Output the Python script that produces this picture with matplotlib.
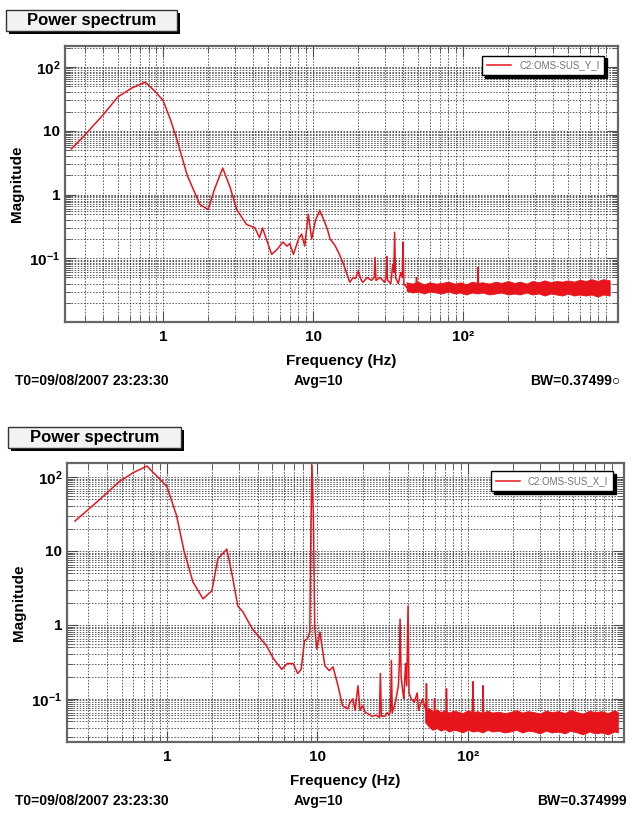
import numpy as np
import matplotlib
matplotlib.use('Agg')
import matplotlib.pyplot as plt
from matplotlib.patches import Rectangle
from matplotlib.ticker import FixedLocator, LogLocator, NullFormatter

plt.rcParams['font.family'] = ['Liberation Sans', 'DejaVu Sans']
plt.rcParams['font.weight'] = 'bold'
plt.rcParams['mathtext.fontset'] = 'custom'
plt.rcParams['mathtext.rm'] = 'Liberation Sans:bold'
plt.rcParams['mathtext.bf'] = 'Liberation Sans:bold'

# ---- panel 1 : C2:OMS-SUS_Y_I ----
freq_y = [0.245, 0.293, 0.40, 0.50, 0.62, 0.76, 0.88, 1.0, 1.12, 1.24, 1.45,
          1.76, 2.0, 2.2, 2.5, 2.8, 3.1, 3.6, 4.1, 4.4, 4.6, 5.3, 5.8, 6.3,
          6.7, 7.0, 7.4, 8.0, 8.4, 8.8, 9.3, 9.8, 10.4, 11.1, 11.8, 12.5, 13.0,
          14.0, 15.0, 16.0, 17.6, 18.5, 19.2, 20.0, 21.0, 21.5, 23.0, 24.5,
          25.6, 25.9, 26.3, 28.0, 30.0, 30.7, 31.0, 31.4, 33.0, 34.0, 34.6,
          35.0, 35.5, 37.0, 38.5, 39.4, 39.8, 40.3, 42.0, 46.0, 48.5, 49.0,
          49.5, 125.0, 126.0, 127.0, 950.0]
mag_y = [5.2, 8.0, 18.0, 34.0, 47.0, 58.0, 42.0, 30.0, 15.0, 7.2, 2.0,
         0.70, 0.58, 1.2, 2.6, 1.3, 0.58, 0.34, 0.30, 0.21, 0.30, 0.115, 0.14, 0.18,
         0.155, 0.17, 0.115, 0.20, 0.24, 0.155, 0.49, 0.20, 0.40, 0.56, 0.40, 0.28, 0.20,
         0.16, 0.115, 0.08, 0.042, 0.05, 0.048, 0.063, 0.045, 0.042, 0.05, 0.045,
         0.05, 0.103, 0.045, 0.05, 0.042, 0.05, 0.107, 0.045, 0.04, 0.08, 0.06,
         0.255, 0.05, 0.04, 0.06, 0.05, 0.18, 0.04, 0.035, 0.034, 0.036, 0.05,
         0.034, 0.034, 0.072, 0.034, 0.034]
band_f_y = [42, 46, 50, 55, 60, 66, 72, 80, 88, 96, 105, 115, 125, 135, 150,
            165, 180, 200, 220, 240, 265, 290, 320, 350, 385, 420, 460, 500,
            550, 600, 660, 720, 790, 860, 950]
band_lo_y = [0.031, 0.029, 0.030, 0.028, 0.030, 0.029, 0.028, 0.030, 0.028,
             0.029, 0.027, 0.029, 0.028, 0.029, 0.027, 0.028, 0.029, 0.027,
             0.028, 0.027, 0.029, 0.027, 0.028, 0.026, 0.028, 0.027, 0.026,
             0.028, 0.026, 0.027, 0.026, 0.027, 0.025, 0.027, 0.026]
band_hi_y = [0.042, 0.040, 0.043, 0.039, 0.042, 0.040, 0.041, 0.043, 0.040,
             0.042, 0.039, 0.043, 0.041, 0.042, 0.040, 0.043, 0.041, 0.044,
             0.041, 0.043, 0.040, 0.044, 0.042, 0.045, 0.042, 0.044, 0.043,
             0.045, 0.043, 0.046, 0.044, 0.047, 0.044, 0.047, 0.045]

# ---- panel 2 : C2:OMS-SUS_X_I ----
freq_x = [0.245, 0.343, 0.487, 0.60, 0.737, 0.85, 1.0, 1.16, 1.3, 1.49, 1.74,
          1.99, 2.18, 2.5, 2.7, 2.96, 3.2, 3.4, 3.7, 4.6, 5.1, 5.8, 6.3, 6.9,
          7.4, 7.8, 8.2, 8.6, 8.9, 9.05, 9.2, 9.4, 9.6, 9.9, 10.4, 11.2, 12.0,
          12.7, 13.7, 14.7, 15.9, 16.5, 17.2, 17.8, 18.6, 19.2, 20.0, 20.8,
          21.7, 23.0, 24.5, 25.8, 26.2, 26.6, 28.0, 29.0, 30.0, 30.6, 31.0, 31.4,
          33.0, 34.5, 35.0, 35.4, 36.0, 37.0, 37.5, 38.5, 39.2, 40.0, 40.6,
          42.0, 44.0, 46.0, 47.0, 48.0, 50.0, 52.5, 53.0, 53.5, 55.0, 57.5,
          59.5, 60.0, 60.5, 71.5, 72.0, 72.5, 107.0, 108.0, 109.0, 125.0,
          126.0, 127.0, 990.0]
mag_x = [25.4, 46.0, 88.0, 115.0, 141.0, 105.0, 75.0, 30.0, 10.0, 3.8, 2.25,
         2.9, 7.8, 10.6, 5.0, 1.8, 1.5, 1.2, 0.88, 0.52, 0.35, 0.25, 0.30, 0.30,
         0.22, 0.25, 0.61, 0.65, 0.8, 20.0, 146.0, 30.0, 0.9, 0.47, 0.8, 0.28, 0.24,
         0.27, 0.15, 0.08, 0.073, 0.09, 0.10, 0.07, 0.15, 0.07, 0.08, 0.065,
         0.063, 0.058, 0.06, 0.056, 0.22, 0.058, 0.058, 0.065, 0.06, 0.07, 0.33,
         0.065, 0.09, 0.15, 0.3, 1.2, 0.2, 0.12, 0.1, 0.3, 0.15, 1.8, 0.12,
         0.1, 0.09, 0.12, 0.07, 0.08, 0.1, 0.07, 0.16, 0.07, 0.07, 0.05,
         0.05, 0.1, 0.05, 0.05, 0.137, 0.05, 0.05, 0.17, 0.05, 0.05,
         0.15, 0.05, 0.05]
band_f_x = [52, 55, 58, 62, 66, 70, 75, 80, 86, 92, 100,
            108, 116, 125, 135, 145, 160, 175, 190, 210, 230, 250, 275, 300,
            330, 360, 400, 440, 480, 530, 580, 640, 700, 770, 850, 940, 990]
band_lo_x = [0.048, 0.042, 0.038, 0.040,
             0.037, 0.039, 0.036, 0.038, 0.037, 0.035, 0.038, 0.036, 0.037,
             0.035, 0.038, 0.036, 0.037, 0.035, 0.036, 0.038, 0.035, 0.037,
             0.036, 0.034, 0.037, 0.035, 0.036, 0.034, 0.037, 0.035, 0.033,
             0.036, 0.034, 0.035, 0.033, 0.036, 0.035]
band_hi_x = [0.07, 0.075, 0.068, 0.072,
             0.066, 0.07, 0.065, 0.069, 0.067, 0.064, 0.07, 0.066, 0.068,
             0.064, 0.069, 0.065, 0.067, 0.064, 0.066, 0.07, 0.065, 0.068,
             0.066, 0.063, 0.069, 0.066, 0.068, 0.064, 0.07, 0.066, 0.063,
             0.069, 0.066, 0.068, 0.064, 0.07, 0.066]

yticks = [0.1, 1, 10, 100]
ytick_labels = [r'$\mathbf{10^{-1}}$', '1', '10', r'$\mathbf{10^{2}}$']
xticks = [1, 10, 100]
xtick_labels = ['1', '10', '10\u00b2']

RED = '#e8141c'
W, H = 638, 813


def fx(px):
    return px / W


def fy(py):
    return 1 - py / H


def shadow_box(fig, x0, y0, x1, y1, text):
    # box with black drop shadow, coordinates in image pixels
    fig.patches.append(Rectangle((fx(x0 + 3), fy(y1 + 3)), fx(x1 - x0), (y1 - y0) / H,
                                 transform=fig.transFigure, fc='black', ec='none'))
    fig.patches.append(Rectangle((fx(x0), fy(y1)), fx(x1 - x0), (y1 - y0) / H,
                                 transform=fig.transFigure, fc='#f2f2f2', ec='0.2', lw=1))
    fig.text(fx((x0 + x1) / 2), fy((y0 + y1) / 2), text, ha='center', va='center',
             fontsize=12, fontweight='bold')


def setup_ax(ax, xlim, ylim):
    ax.set_xscale('log')
    ax.set_yscale('log')
    ax.set_xlim(*xlim)
    ax.set_ylim(*ylim)
    ax.yaxis.set_major_locator(FixedLocator(yticks))
    ax.set_yticklabels(ytick_labels)
    ax.xaxis.set_major_locator(FixedLocator(xticks))
    ax.set_xticklabels(xtick_labels)
    ax.yaxis.set_minor_locator(LogLocator(base=10, subs=[2, 3, 4, 5, 5.5, 6, 6.5, 7, 7.5, 8, 8.5, 9, 9.5], numticks=20))
    ax.xaxis.set_minor_locator(LogLocator(base=10, subs=[2, 3, 4, 5, 6, 7, 8, 9], numticks=20))
    ax.yaxis.set_minor_formatter(NullFormatter())
    ax.xaxis.set_minor_formatter(NullFormatter())
    ax.tick_params(which='both', direction='in', top=True, right=True, color='0.3')
    ax.tick_params(which='major', length=8, labelsize=11)
    ax.tick_params(which='minor', length=4)
    ax.tick_params(axis='x', pad=6)
    ax.grid(which='both', color='0.2', linestyle=(0, (2, 2)), linewidth=0.55)
    for s in ax.spines.values():
        s.set_color('0.4')
        s.set_linewidth(1.6)
    ax.set_xlabel('Frequency (Hz)', fontsize=11, fontweight='bold', labelpad=7)
    ax.set_ylabel('Magnitude', fontsize=11, fontweight='bold', labelpad=4)


fig = plt.figure(figsize=(W / 100, H / 100), dpi=100)

ax1 = fig.add_axes([fx(65), fy(322), fx(618 - 65), (322 - 46) / H])
ax2 = fig.add_axes([fx(67), fy(742), fx(624 - 67), (742 - 463) / H])

setup_ax(ax1, (0.222, 1080), (0.01, 214))
setup_ax(ax2, (0.217, 1088), (0.026, 155))

ax1.fill_between(band_f_y, band_lo_y, band_hi_y, color=RED, lw=0.6, zorder=3)
ax1.plot(freq_y, mag_y, color=RED, lw=1.1, label='C2:OMS-SUS_Y_I', zorder=4)
ax2.fill_between(band_f_x, band_lo_x, band_hi_x, color=RED, lw=0.6, zorder=3)
ax2.plot(freq_x, mag_x, color=RED, lw=1.1, label='C2:OMS-SUS_X_I', zorder=4)

for ax, anchor in ((ax1, (0.975, 0.965)), (ax2, (0.98, 0.97))):
    leg = ax.legend(loc='upper right', bbox_to_anchor=anchor, fontsize=7,
                    frameon=True, fancybox=False, shadow={'color': 'black', 'alpha': 1},
                    handlelength=2.5, borderpad=0.5, borderaxespad=0)
    leg.get_frame().set_edgecolor('black')
    leg.get_frame().set_linewidth(1)
    for t in leg.get_texts():
        t.set_color('0.45')
        t.set_fontweight('normal')
    leg.set_zorder(10)

shadow_box(fig, 6, 10, 177, 31, 'Power spectrum')
shadow_box(fig, 8, 427, 181, 448, 'Power spectrum')

for y, bw in ((381, 'BW=0.37499\u25cb'), (801, 'BW=0.374999')):
    fig.text(fx(15), fy(y), 'T0=09/08/2007 23:23:30', fontsize=10, fontweight='bold', va='center')
    fig.text(fx(294), fy(y), 'Avg=10', fontsize=10, fontweight='bold', va='center')
    fig.text(fx(530 if y < 500 else 537), fy(y), bw, fontsize=10, fontweight='bold', va='center')

fig.savefig('out.png', dpi=100)
